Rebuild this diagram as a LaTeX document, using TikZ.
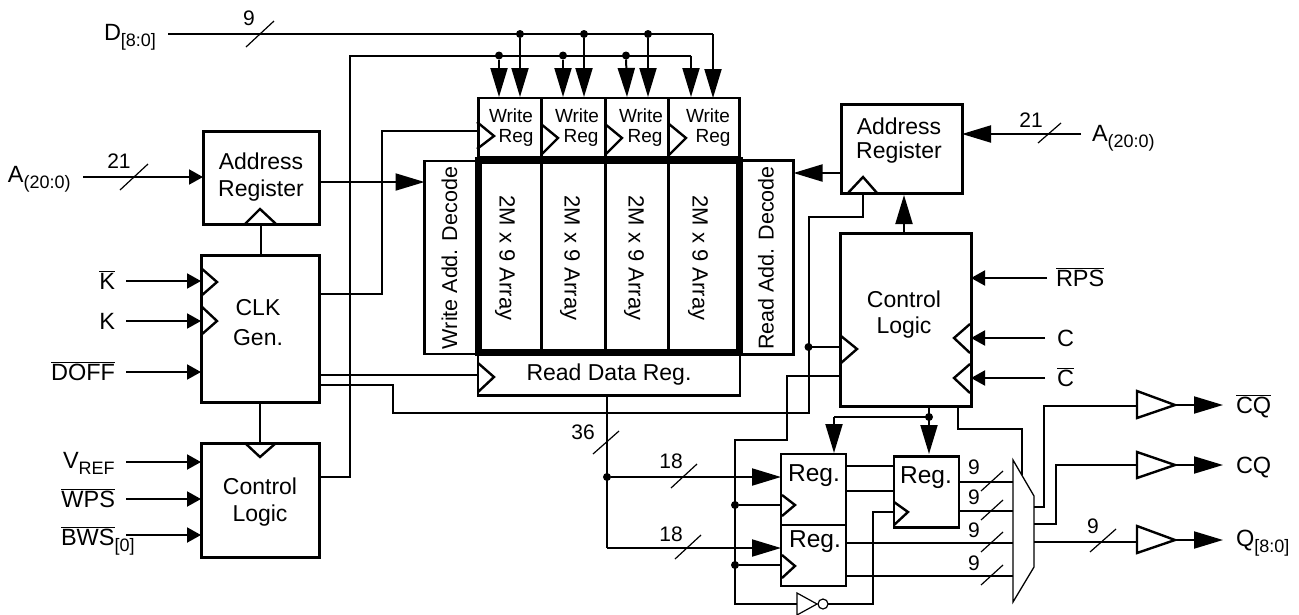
\documentclass[tikz,border=0pt]{standalone}
\usepackage{fontspec}
\setmainfont{Liberation Sans}
\usetikzlibrary{arrows.meta,calc}
\newcommand{\ovl}[1]{\ensuremath{\overline{\mbox{#1}}}}
\newcommand{\subt}[1]{\raisebox{-6pt}{\fontsize{18}{18}\selectfont #1}}
\tikzset{
  x=1pt,y=-1pt,
  wire/.style={line width=2pt},
  wirethick/.style={line width=2.6pt},
  thin slash/.style={line width=1.2pt},
  bighead/.style={wire,-{Triangle[length=29pt,width=17pt]},shorten >=0pt},
  smallhead/.style={wire,-{Triangle[length=14pt,width=15pt]}},
  box/.style={draw,line width=3pt,fill=white,inner sep=0pt,outer sep=0pt,align=center,font=\fontsize{23}{27}\selectfont},
  midbox/.style={draw,line width=2.6pt,fill=white,inner sep=0pt,outer sep=0pt,align=center,font=\fontsize{21.5}{26}\selectfont},
  clkmark/.style={line width=2.4pt,line join=miter},
  txt/.style={inner sep=0pt,outer sep=0pt,font=\fontsize{23.5}{26}\selectfont},
  num/.style={inner sep=0pt,outer sep=0pt,font=\fontsize{21}{24}\selectfont},
  small/.style={inner sep=0pt,outer sep=0pt,font=\fontsize{19}{20}\selectfont},
  arrtxt/.style={inner sep=0pt,outer sep=0pt,font=\fontsize{22}{26}\selectfont,rotate=-90},
  regtxt/.style={inner sep=0pt,outer sep=0pt,font=\fontsize{24.5}{26}\selectfont},
  dot/.style={circle,fill=black,draw=none,minimum size=8pt,inner sep=0pt,outer sep=0pt},
  buf/.style={line width=2.4pt,fill=white,line join=miter},
}
\begin{document}
\begin{tikzpicture}
\useasboundingbox (0,0) rectangle (1299,614);

% ---- free ends and bend points ----
\coordinate (dS) at (168,34);
\coordinate (dE) at (713,34);
\coordinate (aLS) at (83,177);
\coordinate (kbS) at (126,281);
\coordinate (kS) at (126,321);
\coordinate (doS) at (126,372);
\coordinate (vrS) at (126,462);
\coordinate (wpS) at (126,499);
\coordinate (bwS) at (126,535);
\coordinate (aRS) at (1081,134);
\coordinate (rpS) at (1047,278);
\coordinate (cS) at (1045,338);
\coordinate (cbS) at (1045,378);

% ---- blocks ----
\node[box,minimum width=116pt,minimum height=93pt] (addrL) at (261,177.5) {Address\\Register};
\node[box,minimum width=118pt,minimum height=147pt] (clk) at (260,328.5) {};
\node[txt,align=center,font=\fontsize{23}{30}\selectfont] (clkT) at (258,323) {CLK\\Gen.};
\node[box,minimum width=118pt,minimum height=114pt] (ctlL) at (260,500) {};
\node[txt,align=center,font=\fontsize{23}{27}\selectfont] (ctlLT) at (260,502) {Control\\Logic};

\node[midbox,minimum width=53pt,minimum height=193pt] (wdec) at (451,257.5) {};
\node[midbox,minimum width=53pt,minimum height=194pt] (rdec) at (767,257.5) {};
\node[arrtxt,rotate=180,font=\fontsize{21.5}{26}\selectfont] (wdecT) at (449.5,258) {Write Add. Decode};
\node[arrtxt,rotate=180,font=\fontsize{21.5}{26}\selectfont] (rdecT) at (766,258) {Read Add. Decode};

\foreach \n/\xa/\w in {1/510/63.5,2/573.5/64,3/637.5/63.5,4/704/71}{
  \node[midbox,minimum width=\w pt,minimum height=59pt] (wr\n) at (\xa,127.5) {};
}
\foreach \n/\xa/\w in {1/510/63.5,2/573.5/64,3/637.5/63.5,4/704/71}{
  \node[midbox,minimum width=\w pt,minimum height=192pt] (arr\n) at (\xa,256) {};
}
\node[arrtxt] (at1) at (505,258) {2M x 9 Array};
\node[arrtxt] (at2) at (570,258) {2M x 9 Array};
\node[arrtxt] (at3) at (634,258) {2M x 9 Array};
\node[arrtxt] (at4) at (698,258) {2M x 9 Array};
\node[draw,line width=7pt,minimum width=261pt,minimum height=192pt,inner sep=0pt,outer sep=0pt] (array) at (608.5,256) {};
\node[midbox,minimum width=262pt,minimum height=41pt,font=\fontsize{23}{26}\selectfont] (rdr) at (609,375) {Read Data Reg.};

\node[small] (w1) at (511,116) {Write}; \node[small] (r1) at (516,138) {Reg};
\node[small] (w2) at (577,116) {Write}; \node[small] (r2) at (581,138) {Reg};
\node[small] (w3) at (641,116) {Write}; \node[small] (r3) at (645,138) {Reg};
\node[small] (w4) at (708,116) {Write}; \node[small] (r4) at (713,138) {Reg};

\node[box,minimum width=121pt,minimum height=89pt] (addrR) at (901.5,148.5) {};
\node[txt,align=center,font=\fontsize{23}{24}\selectfont] (addrRT) at (899,141) {Address\\Register};
\node[box,minimum width=131pt,minimum height=173pt] (ctlR) at (905.5,319.5) {};
\node[txt,align=center,font=\fontsize{23}{26}\selectfont] (ctlRT) at (904,315) {Control\\Logic};

\node[midbox,minimum width=65pt,minimum height=71pt] (regA) at (813.5,489.5) {};
\node[midbox,minimum width=65pt,minimum height=61pt] (regB) at (813.5,555.5) {};
\node[midbox,minimum width=65pt,minimum height=71pt] (regC) at (926.5,492) {};
\node[regtxt] (regAT) at (814,476) {Reg.};
\node[regtxt] (regBT) at (815,542) {Reg.};
\node[regtxt] (regCT) at (926,478) {Reg.};

% mux
\draw[line width=1.3pt,fill=white,line join=miter] (1013,460) -- (1034,496) -- (1034,567) -- (1013,602) -- cycle;

% ---- clock marks ----
\draw[clkmark] (477,122) -- (494,136) -- (477,149);
\foreach \xa in {541,605,669} \draw[clkmark] (\xa,124) -- (\xa+17,138) -- (\xa,155);
\draw[clkmark] (478,363) -- (494,377) -- (478,392);
\draw[clkmark] (245,224) -- (260,209) -- (276,224);
\draw[clkmark] (201,268) -- (217,282) -- (201,296);
\draw[clkmark] (201,306) -- (217,321) -- (201,335);
\draw[clkmark] (245,443) -- (260,457) -- (276,443);
\draw[clkmark] (848,193) -- (863,177) -- (877,193);
\draw[clkmark] (841,336) -- (857,349) -- (841,363);
\draw[clkmark] (970,324) -- (954,338) -- (970,353);
\draw[clkmark] (970,364) -- (954,378) -- (970,393);
\draw[clkmark] (782,495) -- (795,505) -- (782,516);
\draw[clkmark] (782,555) -- (795,566) -- (782,578);
\draw[clkmark] (894,502) -- (908,512) -- (894,525);

% ---- junctions ----
\foreach \n/\xa in {a/520,b/584,c/648} \node[dot] (jd\n) at (\xa,34) {};
\foreach \n/\xa in {a/499,b/563,c/626} \node[dot] (je\n) at (\xa,55.5) {};
\node[dot] (j36) at (607,477) {};
\node[dot] (jA) at (735,505) {};
\node[dot] (jB) at (735,565) {};
\node[dot] (jC) at (808.5,347) {};
\node[dot] (jR) at (929,417) {};

% ---- top buses ----
\draw[wire] (dS) -- (dE);
\draw[bighead] (dE) -- (dE |- wr4.north);
\draw[wire] (ctlL.east |- 0,477) -| (350,55.5) -- (691,55.5);
\draw[bighead] (691,55.5) -- (691,97);
\draw[bighead] (jda) -- (520,97);
\draw[bighead] (jdb) -- (584,97);
\draw[bighead] (jdc) -- (648,97);
\draw[bighead] (jea) -- (499,97);
\draw[bighead] (jeb) -- (563,97);
\draw[bighead] (jec) -- (627,97);

% ---- left inputs ----
\draw[smallhead] (aLS) -- (addrL.west |- aLS);
\draw[smallhead] (kbS) -- (clk.west |- kbS);
\draw[smallhead] (kS) -- (clk.west |- kS);
\draw[smallhead] (doS) -- (clk.west |- doS);
\draw[smallhead] (vrS) -- (ctlL.west |- vrS);
\draw[smallhead] (wpS) -- (ctlL.west |- wpS);
\draw[smallhead] (bwS) -- (ctlL.west |- bwS);

\draw[wire] (addrL.south) -- (addrL.south |- clk.north);
\draw[wire] (clk.south) -- (ctlL.north);
\draw[bighead] (addrL.east |- 0,182) -- (wdec.west |- 0,182);
\draw[wire] (clk.east |- 0,293.5) -| (382,131) -- (wr1.west |- 0,131);
\draw[wire] (clk.east |- 0,375) -- (rdr.west |- 0,375);
\draw[wire] (clk.east |- 0,385) -| (393,413) -| (jC.center);
\draw[wire] (jC.center) |- (863,217) -- (863,193);
\draw[wire] (jC.center) -- (ctlR.west |- jC);

% ---- read data distribution ----
\draw[wirethick] (rdr.south -| j36) -- (j36.center) -- (607,548);
\draw[wire] (j36) -- (750,477);
\draw[wire] (607,548) -- (750,548);
\draw[bighead] (750,477) ++(-21,0) -- (regA.west |- j36);
\draw[bighead] (729,548) -- (regB.west |- 0,548);

% ---- control logic right ----
\draw[bighead] (ctlR.north -| 904,0) -- (904,195);
\draw[bighead] (addrR.west |- 0,173) -- (rdec.east |- 0,173);
\draw[bighead] (aRS) -- (addrR.east |- aRS);
\draw[smallhead] (rpS) -- (ctlR.east |- rpS);
\draw[smallhead] (cS) -- (ctlR.east |- cS);
\draw[smallhead] (cbS) -- (ctlR.east |- cbS);

\draw[wire] (ctlR.west |- 0,376) -| (787,440) -| (734.5,604) -- (797,604);
\draw[wire] (jA) -- (regA.west |- jA);
\draw[wire] (jB) -- (regB.west |- jB);
\draw[wire] (ctlR.south -| jR) -- (jR.center) -- (834,417);
\draw[bighead] (834,417) -- (834,453);
\draw[bighead] (jR.center) -- (929,454);
\draw[wire] (ctlR.south -| 958,0) |- (1022,429) -- (1022,475);

% ---- inverter ----
\draw[line width=1.2pt,fill=white] (797,593) -- (817,604) -- (797,615) -- cycle;
\node[circle,draw,line width=1.2pt,fill=white,minimum size=10pt,inner sep=0pt,outer sep=0pt] (bub) at (823,604) {};
\draw[wire] (bub.east) -| (873,512) -- (regC.west |- 0,512);

% ---- registers to mux ----
\draw[wire] (regA.east |- 0,466) -- (regC.west |- 0,466);
\draw[wire] (regA.east |- 0,491) -- (regC.west |- 0,491);
\draw[wire] (regC.east |- 0,482) -- (1013,482);
\draw[wire] (regC.east |- 0,511) -- (1013,511);
\draw[wire] (regB.east |- 0,543) -- (1013,543);
\draw[wire] (regB.east |- 0,576) -- (1013,576);

% ---- outputs ----
\draw[buf] (1137,391) -- (1175,405) -- (1137,418) -- cycle;
\draw[buf] (1137,452) -- (1175,465) -- (1137,478) -- cycle;
\draw[buf] (1137,526) -- (1175,540) -- (1137,553) -- cycle;
\draw[wire] (1034,507) -| (1044,406) -- (1137,406);
\draw[wire] (1034,524) -| (1056,465) -- (1137,465);
\draw[wire] (1034,542) -- (1137,542);
\draw[bighead] (1175,405) -- (1223,405);
\draw[bighead] (1175,465) -- (1223,465);
\draw[bighead] (1175,540) -- (1223,540);

% ---- slashes ----
\draw[thin slash] (246,47) -- (274,21);
\draw[thin slash] (120,190) -- (148,164);
\draw[thin slash] (1038,143) -- (1061,123);
\draw[thin slash] (593,454) -- (619,431);
\draw[thin slash] (671,488) -- (697,464);
\draw[thin slash] (675,559) -- (701,535);
\draw[thin slash] (981,491) -- (1003,471);
\draw[thin slash] (981,520) -- (1003,500);
\draw[thin slash] (981,552) -- (1003,532);
\draw[thin slash] (981,585) -- (1003,565);
\draw[thin slash] (1090,552) -- (1116,529);

% ---- labels ----
\node[txt,anchor=base west] (lD) at (104,40) {D\subt{[8:0]}};
\node[txt,anchor=base west] (lAL) at (8,182) {A\subt{(20:0)}};
\node[txt,anchor=base west] (lAR) at (1092,141) {A\subt{(20:0)}};
\node[num] (n9a) at (249,18) {9};
\node[num] (n21a) at (119,161) {21};
\node[num] (n21b) at (1031,120) {21};
\node[num] (n36) at (583,432) {36};
\node[num] (n18a) at (671,461) {18};
\node[num] (n18b) at (671,534) {18};
\node[num] (n9b) at (974,467) {9};
\node[num] (n9c) at (974,497) {9};
\node[num] (n9d) at (974,530) {9};
\node[num] (n9e) at (974,563) {9};
\node[num] (n9f) at (1093,526) {9};

\node[txt,anchor=base east] (lKb) at (115,289) {\ovl{K}};
\node[txt,anchor=base east] (lK) at (115,329) {K};
\node[txt,anchor=base east] (lDo) at (115,380) {\ovl{DOFF}};
\node[txt,anchor=base west] (lVr) at (63,468) {V\subt{REF}};
\node[txt,anchor=base east] (lWp) at (115,507) {\ovl{WPS}};
\node[txt,anchor=base west] (lBw) at (61,545) {\ovl{BWS}\subt{[0]}};
\node[txt,anchor=base west] (lRp) at (1056,286) {\ovl{RPS}};
\node[txt,anchor=base west] (lC) at (1057,346) {C};
\node[txt,anchor=base west] (lCb) at (1057,386) {\ovl{C}};
\node[txt,anchor=base west] (lCQb) at (1236,413) {\ovl{CQ}};
\node[txt,anchor=base west] (lCQ) at (1236,473) {CQ};
\node[txt,anchor=base west] (lQ) at (1236,546) {Q\subt{[8:0]}};
\end{tikzpicture}
\end{document}
